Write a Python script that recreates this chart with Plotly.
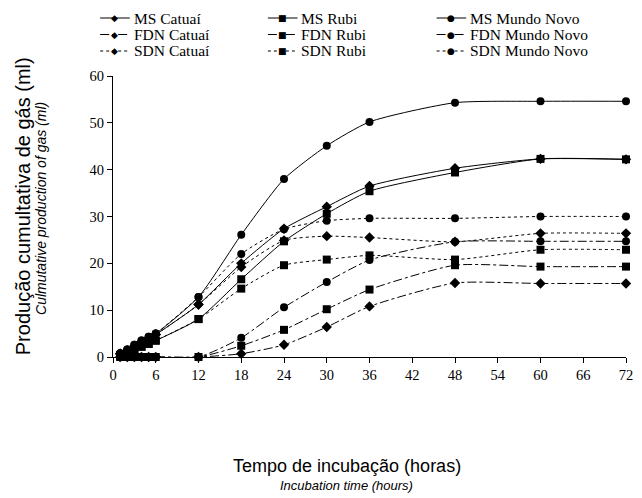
import plotly.graph_objects as go

hours = [1, 2, 3, 4, 5, 6, 12, 18, 24, 30, 36, 48, 60, 72]

ms_catuai = [0.7, 1.4, 2.3, 3.2, 4.0, 4.8, 11.2, 20.0, 27.4, 32.1, 36.5, 40.3, 42.3, 42.2]
ms_rubi = [0.4, 0.9, 1.5, 2.2, 2.8, 3.5, 8.1, 16.6, 24.7, 30.6, 35.4, 39.4, 42.3, 42.2]
ms_mundo = [0.8, 1.6, 2.6, 3.5, 4.3, 5.0, 12.8, 26.1, 38.0, 45.1, 50.2, 54.3, 54.6, 54.6]
fdn_catuai = [0, 0, 0, 0, 0, 0, 0, 0.7, 2.6, 6.4, 10.8, 15.8, 15.7, 15.7]
fdn_rubi = [0, 0, 0, 0, 0, 0, 0, 2.4, 5.8, 10.2, 14.4, 19.6, 19.3, 19.3]
fdn_mundo = [0, 0, 0, 0, 0, 0, 0, 4.1, 10.6, 16.0, 20.7, 24.6, 24.7, 24.7]
sdn_catuai = [0.7, 1.4, 2.3, 3.2, 4.0, 4.8, 11.2, 19.2, 24.9, 25.8, 25.5, 24.6, 26.4, 26.4]
sdn_rubi = [0.4, 0.9, 1.5, 2.2, 2.8, 3.5, 8.1, 14.6, 19.6, 20.8, 21.7, 20.8, 22.9, 22.9]
sdn_mundo = [0.8, 1.6, 2.6, 3.5, 4.3, 5.0, 12.8, 22.0, 27.3, 29.1, 29.6, 29.6, 30.0, 30.0]

names = ["MS Catuaí", "MS Rubi", "MS Mundo Novo",
         "FDN Catuaí", "FDN Rubi", "FDN Mundo Novo",
         "SDN Catuaí", "SDN Rubi", "SDN Mundo Novo"]
values = [ms_catuai, ms_rubi, ms_mundo, fdn_catuai, fdn_rubi, fdn_mundo,
          sdn_catuai, sdn_rubi, sdn_mundo]
dashes = ["solid"] * 3 + ["dashdot"] * 3 + ["dot"] * 3
symbols = ["diamond", "square", "circle"] * 3
glyphs = {"diamond": "◆", "square": "■", "circle": "●"}

# The page body has an 8px margin; compensate so the screenshot aligns.
OFF = 8
W, H = 642 - OFF, 498 - OFF
L, R, T, B = 113 - OFF, 9, 76 - OFF, 141
PW, PH = W - L - R, H - T - B


def px(xs):
    return (xs - OFF - L) / PW


def py(ys):
    return 1 - (ys - OFF - T) / PH


fig = go.Figure()
for name, vals, dash, sym in zip(names, values, dashes, symbols):
    fig.add_trace(go.Scatter(
        x=hours, y=vals, name=name, mode="lines+markers",
        line=dict(color="black", width=1, dash=dash, shape="spline", smoothing=0.6),
        marker=dict(symbol=sym, size=8, color="black"),
        cliponaxis=False, showlegend=False,
    ))

# Manual legend (3 columns x 3 rows)
col_x = [100, 270, 441]
row_y = [18, 34.5, 51]
shapes = []
annotations = []
for i, (name, dash, sym) in enumerate(zip(names, dashes, symbols)):
    x0 = col_x[i % 3]
    y0 = row_y[i // 3]
    shapes.append(dict(type="line", xref="paper", yref="paper",
                       x0=px(x0), x1=px(x0 + 30), y0=py(y0), y1=py(y0),
                       line=dict(color="black", width=1, dash=dash)))
    annotations.append(dict(text=glyphs[sym], xref="paper", yref="paper",
                            x=px(x0 + 15), y=py(y0), xanchor="center", yanchor="middle",
                            showarrow=False,
                            font=dict(family="DejaVu Sans", size=9, color="black")))
    annotations.append(dict(text=name, xref="paper", yref="paper",
                            x=px(x0 + 32), y=py(y0), xanchor="left", yanchor="middle",
                            showarrow=False,
                            font=dict(family="Liberation Serif", size=15.5, color="black")))

annotations += [
    dict(text="Produção cumultativa de gás (ml)", xref="paper", yref="paper",
         x=px(22), y=py(206), xanchor="center", yanchor="middle",
         textangle=-90, showarrow=False,
         font=dict(family="Liberation Sans", size=20, color="black")),
    dict(text="<i>Culmutative production of gas (ml)</i>", xref="paper", yref="paper",
         x=px(40), y=py(208), xanchor="center", yanchor="middle",
         textangle=-90, showarrow=False,
         font=dict(family="Liberation Sans", size=14, color="black")),
    dict(text="Tempo de incubação (horas)", xref="paper", yref="paper",
         x=px(350), y=py(466), xanchor="center", yanchor="middle", showarrow=False,
         font=dict(family="Liberation Sans", size=18, color="black")),
    dict(text="<i>Incubation time (hours)</i>", xref="paper", yref="paper",
         x=px(350), y=py(485), xanchor="center", yanchor="middle", showarrow=False,
         font=dict(family="Liberation Sans", size=13, color="black")),
]

fig.update_layout(
    width=W, height=H,
    margin=dict(l=L, r=R, t=T, b=B),
    paper_bgcolor="white", plot_bgcolor="white",
    showlegend=False,
    xaxis=dict(
        range=[0, 72], tickvals=list(range(0, 73, 6)), showline=True, linecolor="black",
        linewidth=1, ticks="outside", ticklen=5, tickcolor="black", showgrid=False,
        zeroline=False, tickfont=dict(family="Liberation Serif", size=14.5, color="black"),
    ),
    yaxis=dict(
        range=[0, 60], tickvals=list(range(0, 61, 10)), showline=True, linecolor="black",
        linewidth=1, ticks="outside", ticklen=5, tickcolor="black", showgrid=False,
        zeroline=False, tickfont=dict(family="Liberation Serif", size=14.5, color="black"),
    ),
    shapes=shapes,
    annotations=annotations,
)

fig.write_html("out.html")
